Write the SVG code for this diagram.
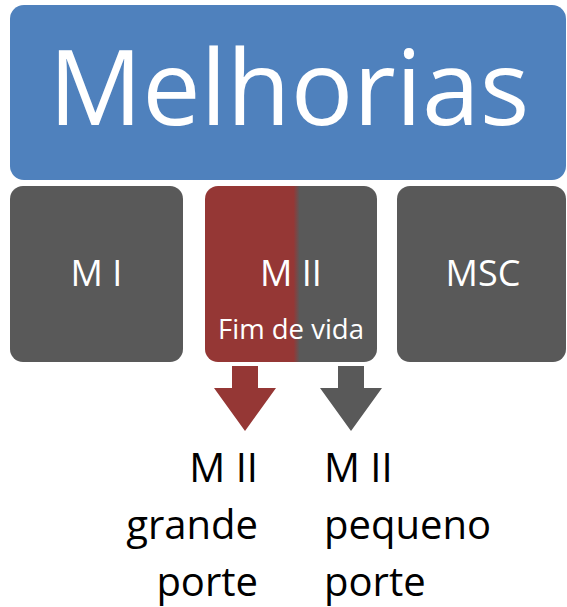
<svg xmlns="http://www.w3.org/2000/svg" width="567" height="607" viewBox="0 0 567 607">
<style>
  .w { fill: #FFFFFF; font-family: "Open Sans", "Noto Sans", "Liberation Sans", sans-serif; }
  .k { fill: #000000; font-family: "Open Sans", "Noto Sans", "Liberation Sans", sans-serif; font-size: 40px; }
  .gray { fill: #595959; }
  .red { fill: #953735; }
</style>
<defs>
  <linearGradient id="split" x1="205" y1="0" x2="377" y2="0" gradientUnits="userSpaceOnUse">
    <stop offset="0" stop-color="#953735"/>
    <stop offset="0.515" stop-color="#953735"/>
    <stop offset="0.55" stop-color="#595959"/>
    <stop offset="1" stop-color="#595959"/>
  </linearGradient>
</defs>
<rect width="567" height="607" fill="#FFFFFF"/>
<g id="melhorias">
  <rect x="10" y="5" width="556" height="175" rx="14" fill="#4F81BD"/>
  <text class="w" x="289" y="125" font-size="104" text-anchor="middle">Melhorias</text>
</g>
<g id="mi">
  <rect class="gray" x="10" y="186" width="173" height="176" rx="13"/>
  <text class="w" x="96.5" y="286" font-size="36" text-anchor="middle">M I</text>
</g>
<g id="mii">
  <rect x="205" y="186" width="172" height="176" rx="13" fill="url(#split)"/>
  <text class="w" x="291" y="286" font-size="36" text-anchor="middle">M II</text>
  <text class="w" x="291" y="339" font-size="27.5" text-anchor="middle">Fim de vida</text>
</g>
<g id="msc">
  <rect class="gray" x="397" y="186" width="169" height="176" rx="13"/>
  <text class="w" x="483" y="286" font-size="36" text-anchor="middle">MSC</text>
</g>
<g id="connectors">
  <polygon class="red" points="232,366 258,366 258,388 276,388 245,431 214,388 232,388"/>
  <polygon class="gray" points="338,366 364,366 364,388 382,388 351,431 320,388 338,388"/>
</g>
<g id="mii-grande">
  <text class="k" text-anchor="end"><tspan x="258" y="482">M II</tspan><tspan x="258" y="539">grande</tspan><tspan x="258" y="596">porte</tspan></text>
</g>
<g id="mii-pequeno">
  <text class="k" text-anchor="start"><tspan x="324" y="482">M II</tspan><tspan x="324" y="539">pequeno</tspan><tspan x="324" y="596">porte</tspan></text>
</g>
</svg>
